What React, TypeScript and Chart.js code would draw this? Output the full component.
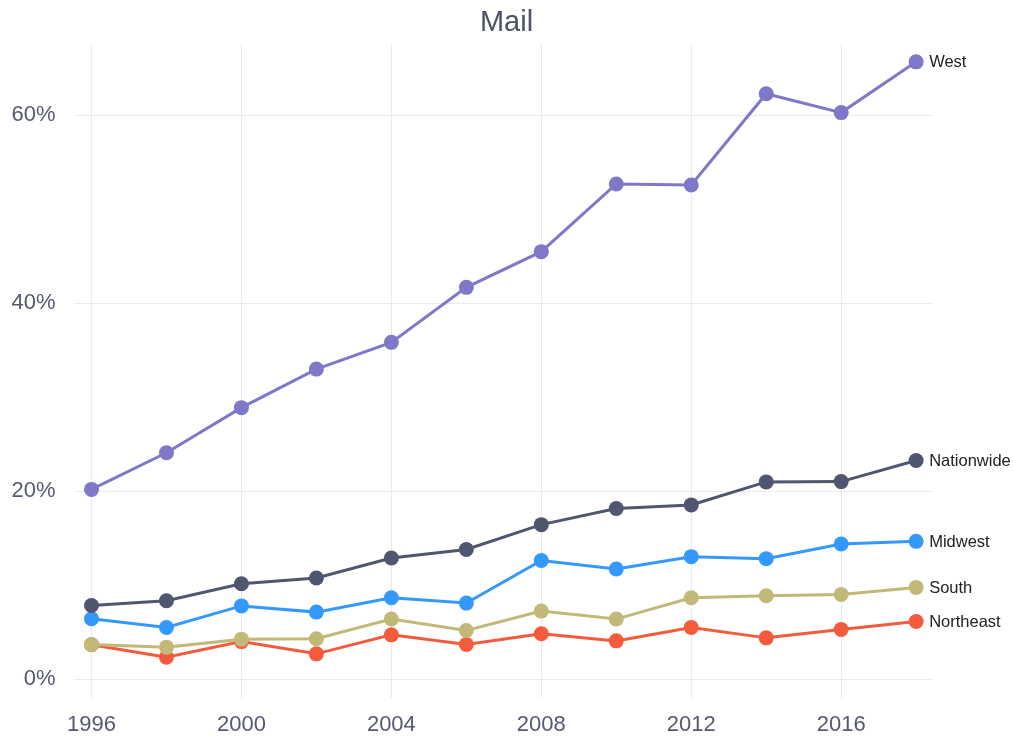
import React, { useEffect, useRef } from "react";
import { Chart, registerables } from "chart.js";

Chart.register(...registerables);

const years = [1996, 1998, 2000, 2002, 2004, 2006, 2008, 2010, 2012, 2014, 2016, 2018];
const west = [20.2, 24.1, 28.9, 33.0, 35.85, 41.7, 45.5, 52.7, 52.6, 62.3, 60.3, 65.7];
const nationwide = [7.85, 8.35, 10.16, 10.77, 12.9, 13.8, 16.45, 18.16, 18.55, 21.0, 21.03, 23.27];
const midwest = [6.43, 5.5, 7.8, 7.14, 8.67, 8.1, 12.64, 11.73, 13.04, 12.83, 14.39, 14.67];
const south = [3.69, 3.41, 4.26, 4.3, 6.4, 5.18, 7.25, 6.4, 8.67, 8.88, 9.02, 9.77];
const northeast = [3.66, 2.35, 4.0, 2.7, 4.72, 3.69, 4.83, 4.08, 5.5, 4.4, 5.29, 6.14];

const seriesNames = ["West", "Nationwide", "Midwest", "South", "Northeast"];
const seriesColors = ["#7f78c8", "#50566f", "#3399ff", "#c2b978", "#f45b3c"];
const seriesValues = [west, nationwide, midwest, south, northeast];

const chartTitle = "Mail";
const FONT = "'Liberation Sans', Arial, sans-serif";

const endLabels = {
  id: "endLabels",
  afterDatasetsDraw(chart: any) {
    const ctx = chart.ctx;
    ctx.save();
    ctx.font = "16.5px " + FONT;
    ctx.fillStyle = "#222222";
    ctx.textAlign = "left";
    ctx.textBaseline = "middle";
    chart.data.datasets.forEach((ds: any, i: number) => {
      const meta = chart.getDatasetMeta(i);
      const pt = meta.data[meta.data.length - 1];
      if (pt) ctx.fillText(ds.label, pt.x + 13, pt.y + 1);
    });
    ctx.restore();
  },
};

const centeredTitle = {
  id: "centeredTitle",
  afterDraw(chart: any) {
    const ctx = chart.ctx;
    ctx.save();
    ctx.font = "29px " + FONT;
    ctx.fillStyle = "#4d5366";
    ctx.textAlign = "center";
    ctx.textBaseline = "middle";
    ctx.fillText(chartTitle, chart.width / 2, 23);
    ctx.restore();
  },
};

export default function App() {
  const ref = useRef<HTMLCanvasElement | null>(null);
  useEffect(() => {
    document.body.style.margin = "0";
    const canvas = ref.current!;
    const chart = new Chart(canvas, {
      type: "line",
      data: {
        datasets: seriesNames.map((name, i) => ({
          label: name,
          data: years.map((y, j) => ({ x: y, y: seriesValues[i][j] })),
          borderColor: seriesColors[i],
          backgroundColor: seriesColors[i],
          pointBackgroundColor: seriesColors[i],
          pointBorderColor: seriesColors[i],
          pointRadius: 7.5,
          pointBorderWidth: 0,
          borderWidth: 3,
          tension: 0,
          clip: false as any,
        })),
      },
      options: {
        responsive: false,
        animation: false,
        layout: { padding: { left: 0, right: 80, top: 44, bottom: 0 } },
        plugins: {
          legend: { display: false },
          tooltip: { enabled: false },
          title: { display: false },
        },
        scales: {
          x: {
            type: "linear",
            min: 1995.52,
            max: 2018.45,
            afterFit: (s: any) => { s.height = 40; },
            border: { display: false },
            grid: { color: "#e9e9ee", drawTicks: false, lineWidth: 1 },
            ticks: {
              stepSize: 4,
              includeBounds: false,
              padding: 14,
              color: "#555a6e",
              font: { size: 22, family: FONT },
              callback: (v: any) => String(v),
            },
          },
          y: {
            type: "linear",
            min: -2.0,
            max: 67.6,
            afterFit: (s: any) => { s.width = 73.5; },
            border: { display: false },
            grid: { color: "#e9e9ee", drawTicks: false, lineWidth: 1 },
            ticks: {
              stepSize: 20,
              includeBounds: false,
              padding: 18,
              color: "#555a6e",
              font: { size: 22, family: FONT },
              callback: (v: any) => v + "%",
            },
          },
        },
      },
      plugins: [endLabels, centeredTitle],
    });
    return () => chart.destroy();
  }, []);
  return (
    <div style={{ width: 1013, height: 738 }}>
      <canvas ref={ref} width={1013} height={738} style={{ display: "block" }} />
    </div>
  );
}
